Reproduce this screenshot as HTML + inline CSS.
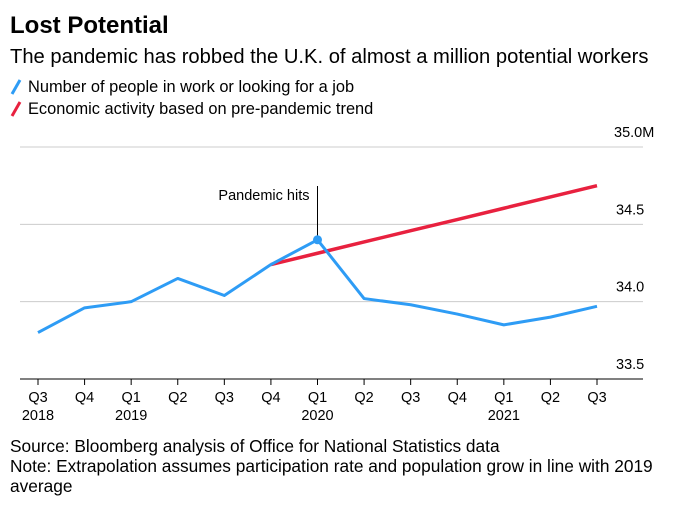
<!DOCTYPE html>
<html><head><meta charset="utf-8"><style>
body{margin:0;background:#fff;font-family:"Liberation Sans",sans-serif;}
svg text{font-family:"Liberation Sans",sans-serif;}
</style></head><body>
<svg width="680" height="507">
<text x="10" y="33" font-size="24" font-weight="bold" fill="#000">Lost Potential</text>
<text x="10" y="63" font-size="20.2" fill="#000">The pandemic has robbed the U.K. of almost a million potential workers</text>
<g>
<line x1="12" y1="94" x2="20" y2="80" stroke="#2e9cf5" stroke-width="3"/>
<text x="28" y="92" font-size="16.4">Number of people in work or looking for a job</text>
<line x1="12" y1="116" x2="20" y2="102" stroke="#e8213f" stroke-width="3"/>
<text x="28" y="114" font-size="16.4">Economic activity based on pre-pandemic trend</text>
</g>
<g id="grid"></g>
<g id="marks"></g>
<g id="xt"></g>
<text x="10" y="452" font-size="17.3">Source: Bloomberg analysis of Office for National Statistics data</text>
<text x="10" y="472" font-size="17.3">Note: Extrapolation assumes participation rate and population grow in line with 2019</text>
<text x="10" y="492" font-size="17.3">average</text>
</svg>
<script>
const quarters=["Q3","Q4","Q1","Q2","Q3","Q4","Q1","Q2","Q3","Q4","Q1","Q2","Q3"];
const years=["2018","","2019","","","","2020","","","","2021","",""];
const workforce=[33.80,33.96,34.00,34.15,34.04,34.24,34.40,34.02,33.98,33.92,33.85,33.90,33.97];
const trend=[null,null,null,null,null,34.24,34.313,34.386,34.459,34.531,34.604,34.677,34.75];
const yTicks=[33.5,34.0,34.5,35.0];
const yLabels=["33.5","34.0","34.5","35.0M"];
const NS="http://www.w3.org/2000/svg";
const x=i=>38+i*(597-38)/12;
const y=v=>379-(v-33.5)*(379-147)/1.5;
function mk(t,a,p){const e=document.createElementNS(NS,t);for(const k in a)e.setAttribute(k,a[k]);p.appendChild(e);return e;}
const g=document.getElementById('grid'),m=document.getElementById('marks'),xt=document.getElementById('xt');
yTicks.forEach((v,i)=>{
 const l=mk('line',{x1:20,x2:643,y1:y(v),y2:y(v),stroke:i==0?'#000':'#ccc','stroke-width':1},g);
 
 
 const t=mk('text',{x:i==3?614:616,y:y(v)-10,'font-size':14.5},g);t.textContent=yLabels[i];
 
 
});
quarters.forEach((q,i)=>{
 const tk=mk('line',{x1:x(i),x2:x(i),y1:379,y2:385,stroke:'#000'},xt);
 
 
 const t=mk('text',{x:x(i),y:402,'font-size':14.5,'text-anchor':'middle'},xt);t.textContent=q;
 
 
 if(years[i]){const t2=mk('text',{x:x(i),y:420,'font-size':14.5,'text-anchor':'middle'},xt);t2.textContent=years[i];
 
 }
});
const tp=trend.map((v,i)=>v==null?null:x(i)+','+y(v)).filter(s=>s).join(' ');
const tl=mk('polyline',{points:tp,fill:'none',stroke:'#e8213f','stroke-width':3.5},m);


const wl=mk('polyline',{points:workforce.map((v,i)=>x(i)+','+y(v)).join(' '),fill:'none',stroke:'#2e9cf5','stroke-width':3,'stroke-linejoin':'round'},m);


const pi=6;
const al=mk('line',{x1:x(pi),x2:x(pi),y1:186,y2:y(workforce[pi]),stroke:'#000','stroke-width':1},m);


const dot=mk('circle',{cx:x(pi),cy:y(workforce[pi]),r:4.5,fill:'#2e9cf5'},m);


const at=mk('text',{x:x(pi)-8,y:200,'font-size':14.5,'text-anchor':'end'},m);at.textContent='Pandemic hits';


</script>
</body></html>
